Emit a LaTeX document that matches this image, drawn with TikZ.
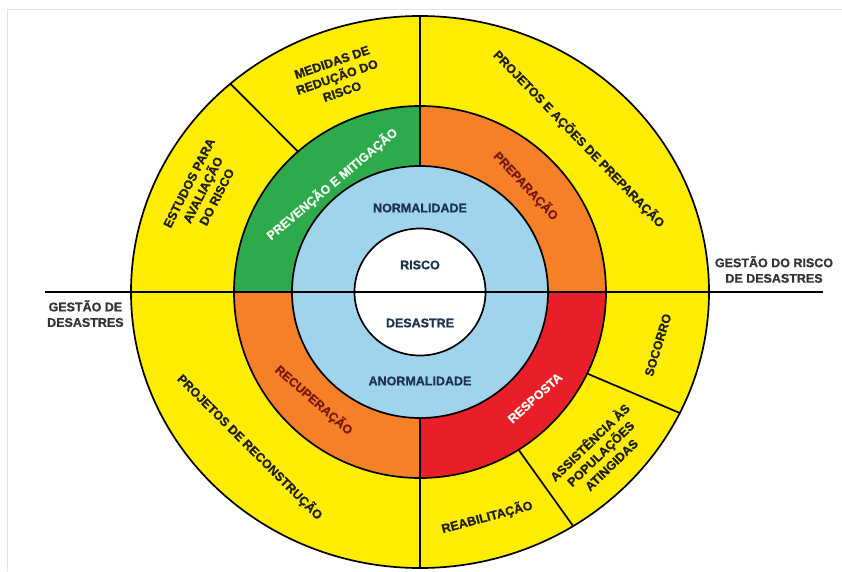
\documentclass[tikz,border=0pt]{standalone}
\usepackage{fontspec}
\setmainfont{Liberation Sans}[BoldFeatures={FakeBold=0.8}]
\usepackage{tikz}
\usetikzlibrary{positioning,calc}

\definecolor{ringyellow}{RGB}{255,237,0}
\definecolor{phasegreen}{RGB}{44,170,76}
\definecolor{phaseorange}{RGB}{246,128,40}
\definecolor{phasered}{RGB}{232,30,40}
\definecolor{calmblue}{RGB}{160,212,236}
\definecolor{navytext}{RGB}{28,50,78}
\definecolor{darkred}{RGB}{120,24,18}
\definecolor{framegray}{RGB}{225,225,225}

\begin{document}
\begin{tikzpicture}[
  x=1pt, y=1pt,
  every node/.style={font=\bfseries\fontsize{12.5}{15.5}\selectfont, align=center, inner sep=0pt, text=black!88},
  ring/.style={draw, line width=1.7pt},
  cut/.style={line width=1.7pt},
  onblue/.style={text=navytext},
  onorange/.style={text=darkred},
  onwhite/.style={text=white!94!green}
]
\useasboundingbox (-420,-279) rectangle (422,292);
\draw[framegray, line width=1pt] (-412,-279) -- (-412,282) -- (422,282);

% rings, outside in
\filldraw[fill=ringyellow, ring] (0,0) ellipse [x radius=289, y radius=276];
\fill[phasegreen]  (0,0) -- (0,186) arc[start angle=90, end angle=180, radius=186] -- cycle;
\fill[phaseorange] (0,0) -- (186,0) arc[start angle=0, end angle=90, radius=186] -- cycle;
\fill[phaseorange] (0,0) -- (-186,0) arc[start angle=180, end angle=270, radius=186] -- cycle;
\fill[phasered]    (0,0) -- (0,-186) arc[start angle=270, end angle=360, radius=186] -- cycle;
\draw[ring] (0,0) circle[radius=186];
\filldraw[fill=calmblue, ring] (0,0) ellipse [x radius=128, y radius=126];
\filldraw[fill=white, ring] (0,0) ellipse [x radius=65.5, y radius=63.5];

% dividers
\draw[cut] (0,126) -- (0,276);
\draw[cut] (0,-126) -- (0,-276);
\foreach \a in {131,-26,-58}
  \draw[cut] ({186*cos(\a)},{186*sin(\a)}) -- ({289*cos(\a)},{276*sin(\a)});

\coordinate (axisL) at (-375,0);
\coordinate (axisR) at (403,0);
\draw[line width=2.6pt] (axisL) -- (axisR);

% centre
\node[onblue] (normal) at (0,84) {NORMALIDADE};
\node[onblue] (risco) at (0,27) {RISCO};
\node[onblue] (desastre) at (0,-31) {DESASTRE};
\node[onblue] (anormal) at (0,-89) {ANORMALIDADE};

% phases
\node[onwhite, rotate=40] (prevencao) at (-88,108) {PREVENÇÃO E MITIGAÇÃO};
\node[onorange, rotate=-47] (preparacao) at (106,106) {PREPARAÇÃO};
\node[onorange, rotate=-41] (recuperacao) at (-106,-108) {RECUPERAÇÃO};
\node[onwhite, rotate=42] (resposta) at (115,-106) {RESPOSTA};

% actions
\node[rotate=19] (medidas) at (-83,215) {MEDIDAS DE\\REDUÇÃO DO\\RISCO};
\node[rotate=63] (estudos) at (-217,102) {ESTUDOS PARA\\AVALIAÇÃO\\DO RISCO};
\node[rotate=-46] (projprep) at (159,153) {PROJETOS E AÇÕES DE PREPARAÇÃO};
\node[rotate=-45] (projrec) at (-170,-155) {PROJETOS DE RECONSTRUÇÃO};
\node[rotate=15] (reabil) at (67,-225) {REABILITAÇÃO};
\node[rotate=44] (assist) at (180,-161) {ASSISTÊNCIA ÀS\\POPULAÇÕES\\ATINGIDAS};
\node[rotate=73] (socorro) at (238,-53) {SOCORRO};

% axis labels
\node[anchor=south, text=black!80] (gestrisco) at (354,9) {GESTÃO DO RISCO\\DE DESASTRES};
\node[below right=8pt and 2pt of axisL, text=black!80] (gestdes) {GESTÃO DE\\DESASTRES};
\end{tikzpicture}
\end{document}
